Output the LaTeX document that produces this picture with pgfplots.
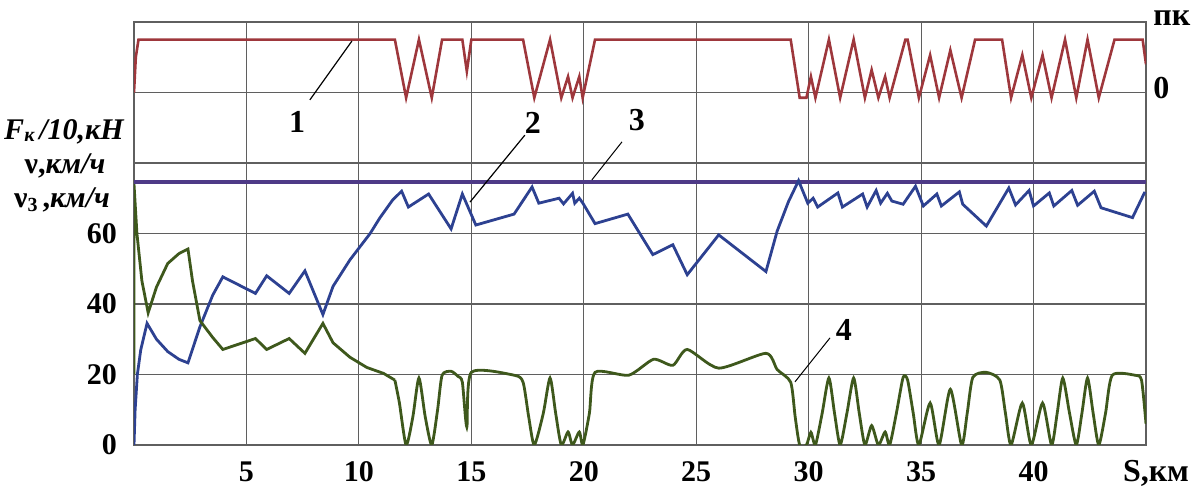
\documentclass[border=0pt]{standalone}
\usepackage{fontspec}
\setmainfont{Liberation Serif}
\usepackage{pgfplots}
\pgfplotsset{compat=1.18}
\definecolor{cred}{RGB}{158,55,60}
\definecolor{cblue}{RGB}{45,65,145}
\definecolor{cpurp}{RGB}{78,58,135}
\definecolor{cgreen}{RGB}{62,88,28}
\definecolor{cgrid}{RGB}{95,95,95}
\begin{document}
\begin{tikzpicture}[x=1pt,y=1pt]
\path[use as bounding box] (0,0) rectangle (599,245);
\begin{axis}[
  at={(67pt,22.5pt)}, anchor=south west,
  scale only axis, width=506pt, height=211.5pt,
  xmin=0, xmax=45, ymin=0, ymax=120,
  xtick={5,10,...,40}, ytick={0,20,40,60},
  extra y ticks={80,100}, extra y tick labels={},
  extra tick style={grid=major},
  grid=major,
  major grid style={draw=cgrid, line width=0.55pt},
  axis line style={draw=cgrid, line width=0.6pt},
  major tick length=0pt,
  /pgf/number format/assume math mode=true,
  ticklabel style={font=\fontsize{15}{15}\selectfont\bfseries},
  xticklabel style={anchor=base, yshift=-18.5pt},
  yticklabel style={anchor=east, xshift=-5pt},
  clip=true,
]
% 1: controller position (red)
\addplot[cred, line width=1.3pt] coordinates {
(0,100) (0.08,110) (0.2,115) (11.6,115) (12.1,98.5) (12.67,115) (13.24,98.5) (13.7,115) (14.6,115) (14.8,106) (15.0,115) (17.3,115) (17.8,98.5) (18.5,115) (19.0,98.5) (19.3,104.5) (19.5,98.5) (19.8,104.5) (19.95,98.5) (20.5,115) (29.2,115) (29.6,98.5) (29.9,98.5) (30.1,104.5) (30.3,98.5) (30.9,115) (31.4,98.5) (32.0,115) (32.5,98.5) (32.8,106.4) (33.1,98.5) (33.4,104.5) (33.6,98.5) (34.3,115) (34.4,115) (34.9,98.5) (35.4,110.6) (35.8,98.5) (36.3,112) (36.8,98.5) (37.4,115) (38.6,115) (39.0,98.5) (39.5,110.6) (39.9,98.5) (40.4,110.6) (40.8,98.5) (41.4,115) (41.9,98.5) (42.4,115) (42.9,98.5) (43.6,115) (44.85,115) (45,108)
};
% 3: set speed (purple)
\addplot[cpurp, line width=1.6pt] coordinates {(0,74.6) (45,74.6)};
% 2: speed (blue)
\addplot[cblue, line width=1.4pt] coordinates {
(0,0) (0.05,10) (0.15,20) (0.3,27) (0.58,34.5) (1.0,30) (1.5,26.5) (2.0,24.3) (2.4,23.3) (2.93,33.5) (3.5,42.5) (3.95,47.7) (5.4,43) (5.9,48) (6.9,43) (7.6,49.4) (8.4,37) (8.85,45) (9.6,52.5) (10.5,60) (10.93,64.4) (11.5,69.5) (11.9,72) (12.2,67.5) (13.1,71.2) (14.1,61.3) (14.6,71.2) (15.2,62.4) (16.9,65.5) (17.7,73.2) (18.0,68.6) (18.9,70) (19.1,68.4) (19.5,71.4) (19.6,68.6) (19.8,70) (19.96,68.6) (20.5,62.8) (21.96,65.5) (23.07,54) (23.96,56.8) (24.6,48.3) (26.0,59.6) (28.1,49.2) (28.6,60.7) (29.1,69) (29.55,75) (29.96,68.6) (30.2,70) (30.4,67.5) (31.3,71.5) (31.5,67.5) (32.4,71.2) (32.6,67.5) (33.0,72.2) (33.2,68.6) (33.5,71.4) (33.7,69.2) (34.2,68.3) (34.75,73.4) (35.1,67.8) (35.7,71.2) (35.9,67.8) (36.7,71.8) (36.85,68.3) (37.9,62.1) (38.9,72.9) (39.2,68.1) (39.8,72.2) (40.0,67.8) (40.7,71.5) (40.9,67.8) (41.7,72.2) (41.96,68) (42.7,72) (43.0,67.3) (44.4,64.5) (44.95,71.8)
};
% 4: traction force (green)
\addplot[cgreen, line width=1.4pt] coordinates {
(0,20) (0,74) (0.13,60) (0.35,46.6) (0.63,37.5) (1.0,44.8) (1.5,51.5) (2.0,54.3) (2.4,55.6) (2.6,46.6) (2.93,35.3) (3.5,30.5) (3.95,27.1) (5.4,30.2) (5.9,27.1) (6.9,30.2) (7.6,26) (8.4,34.5) (8.85,29) (9.6,24.9) (10.35,22) (11.1,20.3) (11.6,18.4)
};
\addplot[cgreen, line width=1.4pt, smooth, tension=0.4] coordinates {
(11.6,18.4) (11.8,12) (12.1,0) (12.4,8) (12.67,19) (12.95,8) (13.24,0) (13.5,10) (13.7,19.8) (14.1,20.9) (14.4,19.5) (14.6,17.8) (14.8,5.1) (15.0,20.6) (16.9,19.8) (17.3,17.8) (17.55,8) (17.8,0) (18.2,9) (18.5,19) (18.75,9) (19.0,0) (19.3,3.7) (19.5,0) (19.8,3.7) (19.96,0) (20.25,9) (20.5,20.6) (22.0,19.8) (23.1,24.3) (23.96,22.6) (24.6,27.1) (26.0,21.8) (28.1,26) (28.6,21.4) (29.2,17.8) (29.4,8) (29.6,0) (29.9,0) (30.1,3.6) (30.3,0) (30.6,9) (30.9,19) (31.15,9) (31.4,0) (31.7,9) (32.0,19) (32.25,9) (32.5,0) (32.8,5.5) (33.1,0) (33.4,3.7) (33.6,0) (33.9,9) (34.2,19.2) (34.4,18.4) (34.65,9) (34.9,0) (35.4,11.9) (35.8,0) (36.3,15.8) (36.8,0) (37.05,9) (37.3,19.2) (37.9,20.6) (38.5,18.4) (38.75,9) (39.0,0) (39.5,11.9) (39.9,0) (40.4,11.9) (40.8,0) (41.05,9) (41.3,19) (41.6,9) (41.9,0) (42.15,9) (42.4,19) (42.65,9) (42.9,0) (43.2,9) (43.5,19.8) (44.5,19.8) (44.8,18.4) (45,6)
};
\coordinate (L1) at (axis cs:7.25,91.6);
\coordinate (L1a) at (axis cs:7.82,97.9);
\coordinate (L1b) at (axis cs:9.69,114.6);
\coordinate (L2) at (axis cs:17.74,91.3);
\coordinate (L2a) at (axis cs:17.38,87.9);
\coordinate (L2b) at (axis cs:14.94,68.9);
\coordinate (L3) at (axis cs:22.36,92.2);
\coordinate (L3a) at (axis cs:21.7,86);
\coordinate (L3b) at (axis cs:20.36,75.2);
\coordinate (L4) at (axis cs:31.57,32.6);
\coordinate (L4a) at (axis cs:30.95,30.4);
\coordinate (L4b) at (axis cs:29.39,17.9);
\coordinate (R0) at (axis cs:45,101.4);
\coordinate (Rpk) at (axis cs:45,121);
\end{axis}
\draw[black, line width=0.6pt] (L1a) -- (L1b);
\draw[black, line width=0.6pt] (L2a) -- (L2b);
\draw[black, line width=0.5pt] (L3a) -- (L3b);
\draw[black, line width=0.5pt] (L4a) -- (L4b);
\node[font=\fontsize{16}{16}\selectfont\bfseries] at (L1) {1};
\node[font=\fontsize{16}{16}\selectfont\bfseries] at (L2) {2};
\node[font=\fontsize{16}{16}\selectfont\bfseries] at (L3) {3};
\node[font=\fontsize{16}{16}\selectfont\bfseries] at (L4) {4};
\node[font=\fontsize{16}{16}\selectfont\bfseries, anchor=west, inner sep=0pt, xshift=3.5pt] at (R0) {0};
\node[font=\fontsize{16}{16}\selectfont\bfseries, anchor=west, inner sep=0pt, xshift=3.5pt] at (Rpk) {пк};
\node[font=\fontsize{16}{16}\selectfont\bfseries, anchor=base, inner sep=0pt] at (578,4) {S,км};
\node[font=\fontsize{15}{15}\selectfont\bfseries\itshape, anchor=base, inner sep=0pt] at (32,175) {F\raisebox{-1pt}{\fontsize{10}{10}\selectfont к}\,/10,кН};
\node[font=\fontsize{15}{15}\selectfont\bfseries, anchor=base, inner sep=0pt] at (32.5,158) {ν,\textit{км/ч}};
\node[font=\fontsize{15}{15}\selectfont\bfseries, anchor=base, inner sep=0pt] at (31,141) {ν\raisebox{-2pt}{\fontsize{10}{10}\selectfont 3}\,,\textit{км/ч}};
\end{tikzpicture}
\end{document}
